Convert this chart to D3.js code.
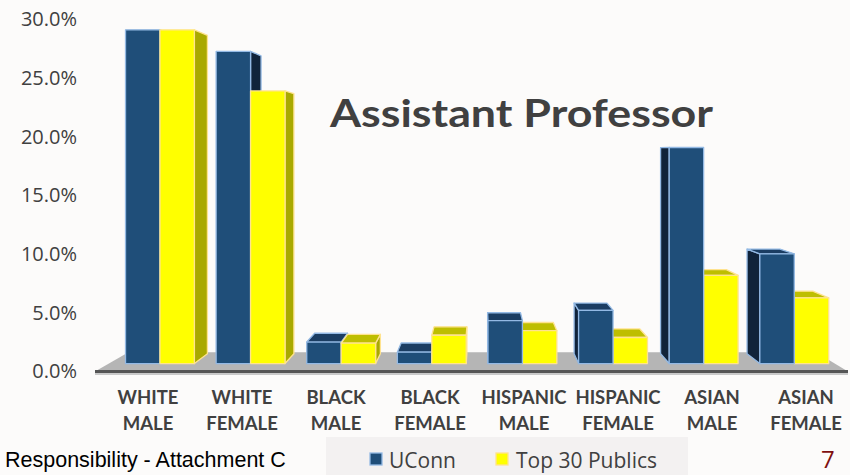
<!DOCTYPE html>
<html>
<head>
<meta charset="utf-8">
<script src="https://cdn.jsdelivr.net/npm/d3@7"></script>
<style>
  html, body { margin: 0; padding: 0; background: #fcfbfa; }
  svg { display: block; }
</style>
</head>
<body>
<svg id="chart" width="850" height="475"></svg>
<script>
// Share of assistant professors by race / sex, UConn vs. Top 30 Publics (percent)
const categories = ["WHITE MALE", "WHITE FEMALE", "BLACK MALE", "BLACK FEMALE",
                    "HISPANIC MALE", "HISPANIC FEMALE", "ASIAN MALE", "ASIAN FEMALE"];
const seriesNames = ["UConn", "Top 30 Publics"];
const uconn = [29.5, 27.6, 1.9, 1.0, 3.8, 4.7, 19.1, 9.7];
const top30 = [29.5, 24.1, 1.8, 2.5, 2.9, 2.3, 7.8, 5.8];
const yTicks = [0, 5, 10, 15, 20, 25, 30];
const titleText = "Assistant Professor";
const footerText = "Responsibility - Attachment C";
const pageNumber = "7";

const W = 850, H = 475;
const svg = d3.select("#chart");

// One-point perspective: bars sit slightly behind the front edge of the floor
const VX = 480, VY = 150;           // vanishing point
const D_FRONT = 0.036, D_BACK = 0.080, D_FLOOR = 0.087;
const proj = (x, y, d) => [x + d * (VX - x), y + d * (VY - y)];

const y = d3.scaleLinear().domain([0, 30]).range([371.5, 19.5]);
const x = d3.scaleBand().domain(categories).range([101, 853])
  .paddingInner(0.24).paddingOuter(0.12);
const xs = d3.scaleBand().domain(seriesNames).range([0, x.bandwidth()]);

const styles = {
  "UConn":          { front: "#1f4e79", side: "#10233a", top: "#1b3d62", edge: "#93b9e4" },
  "Top 30 Publics": { front: "#ffff00", side: "#a9a900", top: "#bebe00", edge: "#ffe38f" }
};

// Y axis: labels only
const yAxis = d3.axisLeft(y).tickValues(yTicks).tickSize(0).tickPadding(0)
  .tickFormat(d => d3.format(".1f")(d) + "%");
const gy = svg.append("g").attr("transform", "translate(77,0)").call(yAxis);
gy.select(".domain").remove();
gy.selectAll("text")
  .attr("font-family", "'Open Sans', sans-serif")
  .attr("font-size", 20).attr("fill", "#404040");

// Floor
const fl = x.range()[0] - 6, fr = x.range()[1] - 5, fy = y(0);
const floorPts = [proj(fl, fy, 0), proj(fr, fy, 0), proj(fr, fy, D_FLOOR), proj(fl, fy, D_FLOOR)];
svg.append("polygon").attr("points", floorPts.map(p => p.join(",")).join(" "))
  .attr("fill", "#b5b5b5");
svg.append("line").attr("x1", fl).attr("x2", fr).attr("y1", fy + 2.5).attr("y2", fy + 2.5)
  .attr("stroke", "#c9c9c9").attr("stroke-width", 2);
svg.append("line").attr("x1", fl).attr("x2", fr).attr("y1", fy).attr("y2", fy)
  .attr("stroke", "#555555").attr("stroke-width", 3);

// Bars
const bars = [];
categories.forEach((c, i) => {
  [[seriesNames[0], uconn[i]], [seriesNames[1], top30[i]]].forEach(([s, v]) => {
    const x0 = x(c) + xs(s), x1 = x0 + xs.bandwidth();
    bars.push({ c, s, v, x0, x1 });
  });
});
// paint bars farthest from the vanishing point first
bars.sort((a, b) => Math.abs((b.x0 + b.x1) / 2 - VX) - Math.abs((a.x0 + a.x1) / 2 - VX));

const gBars = svg.append("g");
const poly = (g, pts, fill, edge) => g.append("polygon")
  .attr("points", pts.map(p => p.join(",")).join(" "))
  .attr("fill", fill).attr("stroke", edge).attr("stroke-width", 1.3)
  .attr("stroke-linejoin", "round");

bars.forEach(b => {
  const st = styles[b.s];
  const g = gBars.append("g");
  const y0 = y(0), y1 = y(b.v);
  const F = (xx, yy) => proj(xx, yy, D_FRONT);
  const B = (xx, yy) => proj(xx, yy, D_BACK);
  // side face facing the vanishing point
  if (b.x1 < VX) {
    poly(g, [F(b.x1, y1), B(b.x1, y1), B(b.x1, y0), F(b.x1, y0)], st.side, st.edge);
  } else if (b.x0 > VX) {
    poly(g, [F(b.x0, y1), B(b.x0, y1), B(b.x0, y0), F(b.x0, y0)], st.side, st.edge);
  }
  // top face, visible when below eye level
  if (y1 > VY) {
    poly(g, [F(b.x0, y1), F(b.x1, y1), B(b.x1, y1), B(b.x0, y1)], st.top, st.edge);
  }
  // front face
  poly(g, [F(b.x0, y1), F(b.x1, y1), F(b.x1, y0), F(b.x0, y0)], st.front, st.edge);
});

// Category labels (two lines)
const gx = svg.append("g");
categories.forEach(c => {
  const t = gx.append("text")
    .attr("text-anchor", "middle")
    .attr("font-family", "Lato, sans-serif")
    .attr("font-weight", "bold").attr("font-size", 18.5).attr("fill", "#404040");
  c.split(" ").forEach((w, k) => {
    t.append("tspan").attr("x", x(c) + x.bandwidth() / 2).attr("y", 404 + k * 26).text(w);
  });
});

// Title
svg.append("text").attr("x", 330).attr("y", 127)
  .attr("font-family", "Lato, sans-serif").attr("font-weight", "bold")
  .attr("font-size", 38).attr("fill", "#404040")
  .attr("textLength", 383).attr("lengthAdjust", "spacingAndGlyphs")
  .text(titleText);

// Legend
const lg = svg.append("g");
lg.append("rect").attr("x", 326).attr("y", 437).attr("width", 362).attr("height", 38)
  .attr("fill", "#f3f1f1");
const legendX = [370, 496], legendTextX = [389, 516];
seriesNames.forEach((s, i) => {
  lg.append("rect").attr("x", legendX[i]).attr("y", 453).attr("width", 12).attr("height", 12)
    .attr("fill", styles[s].front).attr("stroke", styles[s].edge).attr("stroke-width", 1.3);
  lg.append("text").attr("x", legendTextX[i]).attr("y", 467.5)
    .attr("font-family", "'Open Sans', sans-serif").attr("font-size", 21)
    .attr("fill", "#404040").text(s);
});

// Footer
svg.append("text").attr("x", 5).attr("y", 467)
  .attr("font-family", "'Liberation Sans', Arial, sans-serif").attr("font-size", 21.5)
  .attr("fill", "#000").text(footerText);
svg.append("text").attr("x", 821).attr("y", 468)
  .attr("font-family", "'Open Sans', sans-serif").attr("font-size", 24)
  .attr("fill", "#7f1010").text(pageNumber);
</script>
</body>
</html>
